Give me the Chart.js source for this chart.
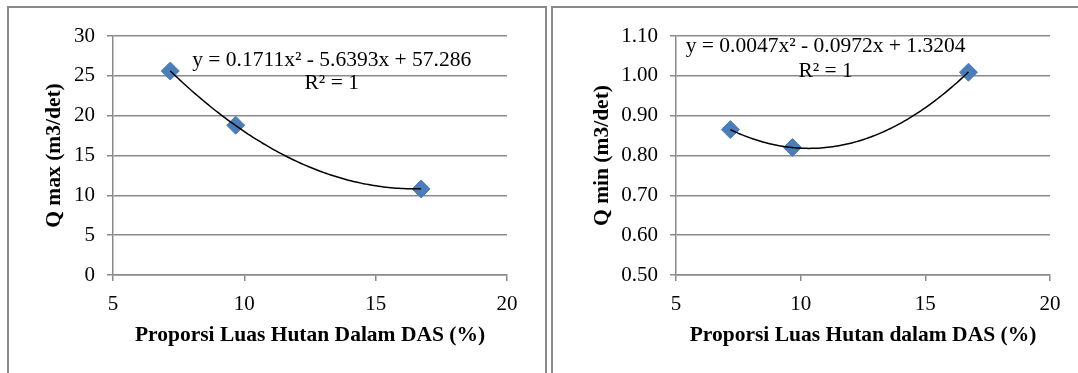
<!DOCTYPE html>
<html>
<head>
<meta charset="utf-8">
<script src="https://cdn.jsdelivr.net/npm/chart.js@4.4.1/dist/chart.umd.min.js"></script>
<style>
    html, body { margin: 0; padding: 0; background: #fff; }
    body { width: 1078px; height: 373px; position: relative; overflow: hidden; }
    .box { position: absolute; top: 6px; height: 420px; border: 2px solid #8a8a8a; box-sizing: border-box; }
    #boxMax { left: 7px; width: 540px; }
    #boxMin { left: 551px; width: 560px; }
    canvas { position: absolute; }
</style>
</head>
<body>
<div class="box" id="boxMax"></div>
<div class="box" id="boxMin"></div>
<canvas id="chartMax" width="536" height="365" style="left:9px;top:8px"></canvas>
<canvas id="chartMin" width="525" height="365" style="left:553px;top:8px"></canvas>
<script>
// data
const forestShare = [7.18, 9.67, 16.73]
const qMax = [25.6, 18.8, 10.8]
const qMin = [0.865, 0.820, 1.009]

const xTicks = [5, 10, 15, 20]
const qMaxTicks = [0, 5, 10, 15, 20, 25, 30]
const qMaxTickLabels = ["0", "5", "10", "15", "20", "25", "30"]
const qMinTicks = [0.5, 0.6, 0.7, 0.8, 0.9, 1.0, 1.1]
const qMinTickLabels = ["0.50", "0.60", "0.70", "0.80", "0.90", "1.00", "1.10"]

// polynomial trendline coefficients (a, b, c) as printed on the chart
const qMaxTrend = [0.1711, -5.6393, 57.286]
const qMinTrend = [0.0047, -0.0972, 1.3204]
const qMaxEq = "y = 0.1711x² - 5.6393x + 57.286"
const qMinEq = "y = 0.0047x² - 0.0972x + 1.3204"

const SERIF = "'Liberation Serif', 'Times New Roman', serif"
const GRID = "#8a8a8a"
Chart.defaults.font.family = SERIF
Chart.defaults.color = "#000"

const trendPlugin = {
    id: "trend",
    afterDatasetsDraw(chart, args, opts) {
        const { ctx, chartArea, scales: { x, y } } = chart
        const [a, b, c] = opts.coef
        const x0 = Math.min(...forestShare), x1 = Math.max(...forestShare)
        ctx.save()
        ctx.beginPath()
        for (let i = 0; i <= 100; i++) {
            const xv = x0 + (x1 - x0) * i / 100
            const px = x.getPixelForValue(xv)
            const py = y.getPixelForValue(a * xv * xv + b * xv + c)
            if (i === 0) ctx.moveTo(px, py)
            else ctx.lineTo(px, py)
        }
        ctx.strokeStyle = "#000"
        ctx.lineWidth = 1.5
        ctx.stroke()

        // equation label
        ctx.font = "21.5px " + SERIF
        ctx.fillStyle = "#000"
        ctx.textAlign = "center"
        ctx.textBaseline = "middle"
        const cx = chartArea.left + chartArea.width * opts.labelX
        ctx.fillText(opts.eq, cx, chartArea.top + opts.labelY)
        ctx.fillText("R² = 1", cx, chartArea.top + opts.labelY + opts.gap)
        ctx.restore()
    }
}

function makeChart(id, values, yTicks, yLabels, yMin, yMax, yTitle, xTitle, trend, eq, lay) {
    return new Chart(document.getElementById(id), {
        type: "scatter",
        data: {
            datasets: [{
                data: forestShare.map((x, i) => ({ x: x, y: values[i] })),
                pointStyle: "rectRot",
                pointRadius: 9,
                backgroundColor: "#4a7ebb",
                borderColor: "#4a7ebb",
                borderWidth: 1
            }]
        },
        options: {
            responsive: false,
            animation: false,
            devicePixelRatio: 1,
            layout: { padding: { left: 0, top: 28, right: lay.padRight, bottom: 0 } },
            plugins: {
                legend: { display: false },
                tooltip: { enabled: false },
                trend: { coef: trend, eq: eq, labelX: lay.labelX, labelY: lay.labelY, gap: lay.gap }
            },
            scales: {
                x: {
                    type: "linear",
                    min: 5, max: 20,
                    afterBuildTicks: s => { s.ticks = xTicks.map(v => ({ value: v })) },
                    afterFit: s => { s.height = 98 },
                    ticks: { font: { size: 21 }, padding: 11, maxRotation: 0, callback: v => String(v) },
                    grid: { drawOnChartArea: false, drawTicks: true, tickLength: 6, color: GRID, lineWidth: 1.5 },
                    border: { color: GRID, width: 1.5 },
                    title: { display: true, text: xTitle, font: { size: 21.5, weight: "bold" }, padding: { top: 0, bottom: 25 } }
                },
                y: {
                    min: yMin, max: yMax,
                    afterBuildTicks: s => { s.ticks = yTicks.map(v => ({ value: v })) },
                    afterFit: s => { s.width = lay.yWidth },
                    ticks: { font: { size: 21 }, padding: 12, callback: (v, i) => yLabels[i] },
                    grid: { color: GRID, lineWidth: 1.5, tickLength: 6 },
                    border: { color: GRID, width: 1.5 },
                    title: { display: true, text: yTitle, font: { size: 21.5, weight: "bold" }, padding: { top: lay.yTitlePad, bottom: 0 } }
                }
            }
        },
        plugins: [trendPlugin]
    })
}

makeChart("chartMax", qMax, qMaxTicks, qMaxTickLabels, 0, 30,
    "Q max (m3/det)", "Proporsi Luas Hutan Dalam DAS (%)", qMaxTrend, qMaxEq,
    { padRight: 38, yWidth: 104, yTitlePad: 33, labelX: 0.555, labelY: 24, gap: 23 })

makeChart("chartMin", qMin, qMinTicks, qMinTickLabels, 0.5, 1.1,
    "Q min (m3/det)", "Proporsi Luas Hutan dalam DAS (%)", qMinTrend, qMinEq,
    { padRight: 28, yWidth: 123, yTitlePad: 37, labelX: 0.4, labelY: 10, gap: 25 })
</script>
</body>
</html>
